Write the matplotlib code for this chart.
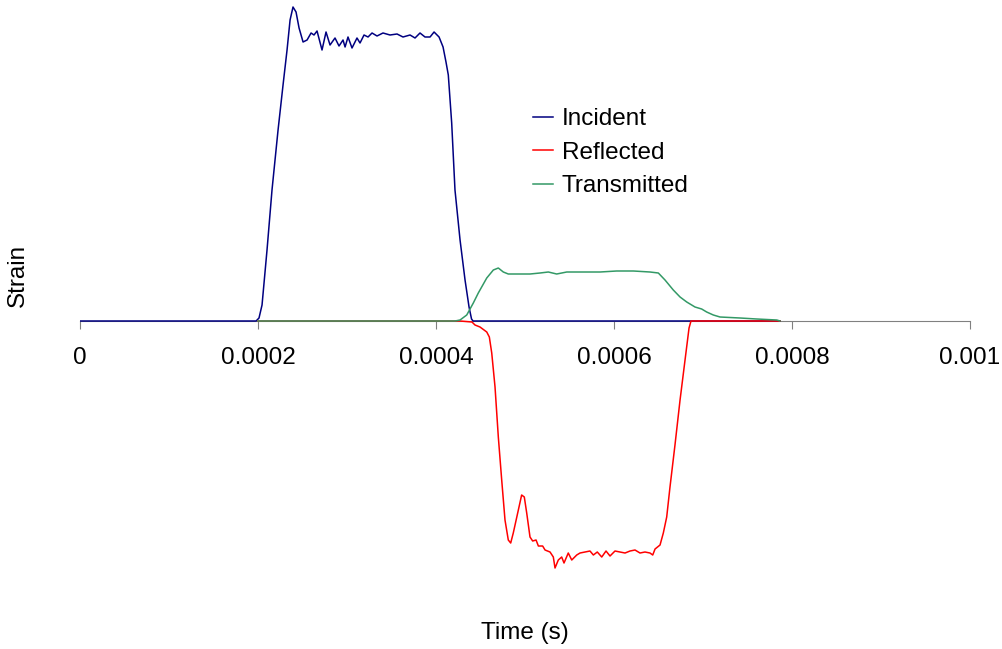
import matplotlib.pyplot as plt

plt.rcParams['font.family'] = ['Liberation Sans', 'DejaVu Sans']

# times in microseconds, strain in units of 1e-5
t_inc = [0, 197.8, 201.1, 204.5, 210.1, 215.7, 222.5, 228.1, 232.6, 236.0, 239.3,
         242.7, 246.1, 250.6, 255.1, 259.6, 262.9, 266.3, 271.9, 276.4, 280.9,
         286.5, 291.0, 295.5, 297.8, 301.1, 305.6, 311.2, 314.6, 319.1, 323.6,
         328.1, 333.7, 340.4, 348.3, 356.2, 362.9, 370.8, 376.4, 382.0, 387.6,
         393.3, 397.8, 403.4, 407.9, 411.2, 413.8, 417.6, 421.3, 427.0, 432.6,
         437.1, 439.9, 441.6, 786.5]
incident = [0, 0, 3, 16, 71, 131, 191, 236, 271, 301, 314,
            309, 293, 279, 281, 288, 286, 290, 271, 289, 276,
            283, 275, 281, 274, 284, 273, 283, 278, 286, 284,
            288, 285, 288, 286, 287, 284, 286, 283, 288, 284,
            284, 289, 284, 274, 259, 246, 198, 131, 81, 41,
            14, 2, 0, 0]

t_ref = [200, 427.0, 440.4, 443.8, 449.4, 457.0, 459.9, 462.6, 466.3, 470.0,
         473.8, 477.5, 481.2, 483.9, 486.8, 492.5, 496.2, 499.2, 501.9, 505.6,
         508.6, 512.4, 515.0, 519.8, 522.5, 528.1, 531.8, 533.7, 537.4, 541.2,
         543.8, 548.6, 552.5, 558.1, 561.8, 567.4, 573.0, 576.8, 581.2, 586.2,
         591.0, 595.5, 601.1, 606.7, 612.4, 618.0, 623.6, 629.2, 634.8, 640.4,
         643.5, 646.1, 651.7, 655.4, 659.2, 662.9, 668.5, 674.2, 679.8, 684.3,
         686.5, 786.5]
reflected = [0, 0, -1, -4, -6, -11, -16, -32, -66, -116,
             -159, -199, -219, -222, -212, -189, -174, -176, -192, -216,
             -220, -219, -225, -225, -229, -231, -236, -247, -239, -236,
             -242, -232, -239, -234, -232, -231, -230, -234, -231, -236,
             -230, -235, -230, -231, -232, -230, -229, -232, -231, -232,
             -234, -228, -224, -212, -196, -166, -124, -79, -39, -7,
             0, 0]

t_tra = [200, 421.3, 427.0, 434.5, 441.9, 447.5, 457.0, 464.4, 470.0, 475.6,
         481.2, 490.6, 505.6, 516.9, 526.2, 535.6, 546.9, 565.5, 584.3, 603.0,
         621.7, 640.4, 649.8, 657.3, 666.6, 674.2, 681.7, 691.0, 698.5, 704.1,
         711.6, 719.1, 741.6, 760.4, 782.9, 786.5]
transmitted = [0, 0, 1, 6, 18, 28, 43, 51, 53, 49,
               47, 47, 47, 48, 49, 47, 49, 49, 49, 50,
               50, 49, 48, 41, 31, 24, 19, 14, 12, 9,
               6, 4, 3, 2, 1, 0]

xticks = [0, 0.0002, 0.0004, 0.0006, 0.0008, 0.001]
xtick_labels = ['0', '0.0002', '0.0004', '0.0006', '0.0008', '0.001']

fig = plt.figure(figsize=(10.03, 6.49), dpi=100)
ax = fig.add_axes([0.0798, 0.0986, 0.8873, 0.8937])

ax.plot([t * 1e-6 for t in t_inc], [v * 1e-5 for v in incident],
        color='#000080', lw=1.1, label='Incident')
ax.plot([t * 1e-6 for t in t_ref], [v * 1e-5 for v in reflected],
        color='#ff0000', lw=1.1, label='Reflected')
ax.plot([t * 1e-6 for t in t_tra], [v * 1e-5 for v in transmitted],
        color='#339966', lw=1.1, label='Transmitted')

ax.set_xlim(0, 0.001)
ax.set_ylim(-264e-5, 316e-5)
ax.spines['bottom'].set_position(('data', 0))
ax.spines['bottom'].set_color('#808080')
ax.spines['bottom'].set_zorder(0)
for s in ['left', 'right', 'top']:
    ax.spines[s].set_visible(False)
ax.set_yticks([])
ax.set_xticks(xticks)
ax.set_xticklabels(xtick_labels)
ax.tick_params(axis='x', direction='out', length=6, color='#808080',
               labelsize=17.5, pad=12.5)

ax.legend(loc='upper left', bbox_to_anchor=(0.5314, 1 - 108 / 649),
          bbox_transform=fig.transFigure, frameon=False, fontsize=17.5,
          handlelength=0.82, handletextpad=0.37, labelspacing=0.48,
          borderpad=0, borderaxespad=0)

fig.text(0.5234, 1 - 633 / 649, 'Time (s)', ha='center', va='center', fontsize=17.5)
fig.text(18 / 1003, 1 - 275 / 649, 'Strain', ha='center', va='center',
         rotation=90, fontsize=17.5)

fig.savefig('out.png', dpi=100)
